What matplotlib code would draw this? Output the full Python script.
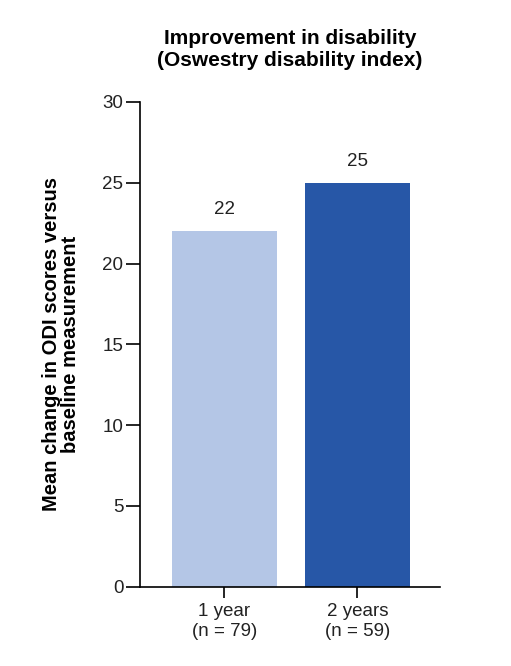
import matplotlib.pyplot as plt

plt.rcParams["font.family"] = ["Liberation Sans", "DejaVu Sans"]

categories = ["1 year\n(n = 79)", "2 years\n(n = 59)"]
values = [22, 25]
colors = ["#b4c6e6", "#2757a7"]

fig = plt.figure(figsize=(5.11, 6.66), dpi=100)
ax = fig.add_axes([0.274, 0.119, 0.587, 0.728])

x = list(range(len(values)))
ax.bar(x, values, width=0.79, color=colors)
for xi, v in zip(x, values):
    ax.text(xi, v + 0.8, f"{v}", ha="center", va="bottom", fontsize=13.5, color="#222222")

ax.set_xlim(-0.635, 1.62)
ax.set_ylim(0, 30)
ax.set_yticks(range(0, 31, 5))
ax.set_xticks(x)
ax.set_xticklabels(categories, fontsize=13.5, color="#222222")
ax.tick_params(axis="y", labelsize=13.5, labelcolor="#222222", direction="out", length=10, width=1.2, pad=2)
ax.tick_params(axis="x", direction="out", length=8, width=1.2, pad=4)
for s in ["top", "right"]:
    ax.spines[s].set_visible(False)
for s in ["left", "bottom"]:
    ax.spines[s].set_linewidth(1.2)

ax.set_ylabel("Mean change in ODI scores versus\nbaseline measurement",
              fontsize=14.5, fontweight="bold", labelpad=16, linespacing=1.0)
ax.set_title("Improvement in disability\n(Oswestry disability index)",
             fontsize=15, fontweight="bold", pad=26, linespacing=1.2)

fig.savefig("out.png", dpi=100)
